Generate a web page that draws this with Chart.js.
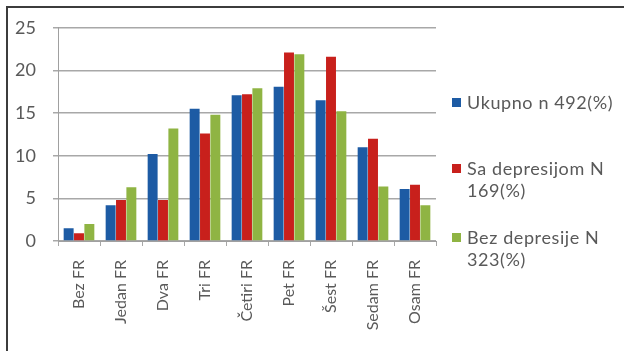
<!DOCTYPE html>
<html>
<head>
<meta charset="utf-8">
<script src="https://cdn.jsdelivr.net/npm/chart.js@4/dist/chart.umd.min.js"></script>
<style>
  html, body { margin: 0; padding: 0; background: #fff; }
  #wrap { position: relative; width: 624px; height: 351px; overflow: hidden; }
  #frame { position: absolute; left: 6px; top: 6px; right: -10px; bottom: -10px;
           border-left: 2px solid #3c3c3c; border-top: 2px solid #3c3c3c; }
  canvas { position: absolute; left: 0; top: 0; }
  #legend { position: absolute; left: 452px; top: 0; font-family: Lato, "Open Sans", sans-serif;
            font-size: 18px; color: #595959; line-height: 22px; letter-spacing: 0.6px; }
  .item { position: absolute; left: 0; white-space: nowrap; }
  .sw { position: absolute; left: 0; top: 7px; width: 9px; height: 9px; }
  .tx { position: absolute; left: 15px; top: 0; }
</style>
</head>
<body>
<div id="wrap">
  <div id="frame"></div>
  <canvas id="c" width="624" height="351"></canvas>
  <div id="legend"></div>
</div>
<script>
const categories = ["Bez FR", "Jedan FR", "Dva FR", "Tri FR", "Četiri FR", "Pet FR", "Šest FR", "Sedam FR", "Osam FR"];
const ukupno     = [1.5, 4.2, 10.2, 15.5, 17.1, 18.1, 16.5, 11.0, 6.1];
const saDepres   = [0.9, 4.8, 4.8, 12.6, 17.2, 22.1, 21.6, 12.0, 6.6];
const bezDepres  = [2.0, 6.3, 13.2, 14.8, 17.9, 21.9, 15.2, 6.4, 4.2];
const seriesNames = [["Ukupno n 492(%)"], ["Sa depresijom N", "169(%)"], ["Bez depresije N", "323(%)"]];
const yTicks = [0, 5, 10, 15, 20, 25];

const colors = ["#1d5ba4", "#c8201c", "#8fb443"];
const legendTops = [91, 157, 226];

const datasets = [ukupno, saDepres, bezDepres].map((vals, i) => ({
  label: seriesNames[i].join(" "),
  data: vals,
  backgroundColor: colors[i],
  borderWidth: 0,
  categoryPercentage: 0.74,
  barPercentage: 0.96
}));

new Chart(document.getElementById("c"), {
  type: "bar",
  data: { labels: categories, datasets },
  options: {
    responsive: false,
    animation: false,
    layout: { padding: { top: 23, right: 188, bottom: 0, left: 0 } },
    plugins: { legend: { display: false }, tooltip: { enabled: false } },
    scales: {
      x: {
        grid: { display: true, drawOnChartArea: false, tickLength: 5, color: "#a8a8a8", offset: true },
        border: { color: "#a0a0a0" },
        ticks: { color: "#595959", font: { family: "Lato", size: 16 }, minRotation: 90, maxRotation: 90, padding: 14 },
        afterFit(s) { s.height = 110; }
      },
      y: {
        min: 0, max: 25,
        afterBuildTicks(s) { s.ticks = yTicks.map(v => ({ value: v })); },
        grid: { color: "#a8a8a8", tickLength: 5, lineWidth: 1.5 },
        border: { color: "#a0a0a0" },
        ticks: { color: "#595959", font: { family: "Lato", size: 18 }, padding: 17 },
        afterFit(s) { s.width = 58; }
      }
    }
  }
});

const legend = document.getElementById("legend");
seriesNames.forEach((lines, i) => {
  const it = document.createElement("div");
  it.className = "item";
  it.style.top = legendTops[i] + "px";
  const sw = document.createElement("div");
  sw.className = "sw";
  sw.style.background = colors[i];
  const tx = document.createElement("div");
  tx.className = "tx";
  tx.innerHTML = lines.join("<br>");
  it.appendChild(sw); it.appendChild(tx);
  legend.appendChild(it);
});
</script>
</body>
</html>
